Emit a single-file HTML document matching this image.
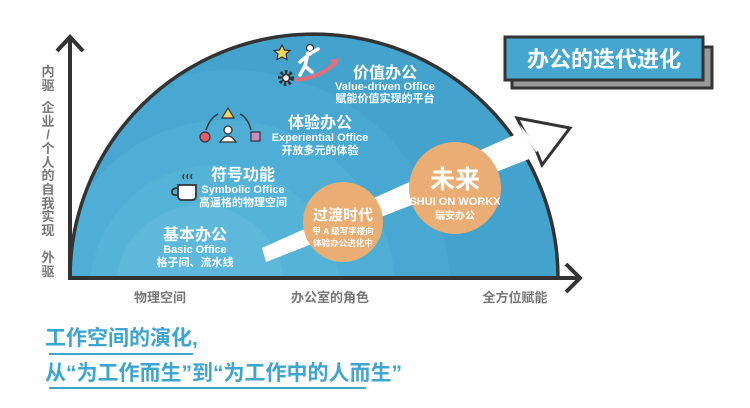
<!DOCTYPE html>
<html><head><meta charset="utf-8"><style>
html,body{margin:0;padding:0;background:#fff;width:750px;height:408px;overflow:hidden;}
svg{display:block;}
text{font-family:"Liberation Sans","Noto Sans CJK SC",sans-serif;font-weight:bold;}
</style></head><body>
<svg width="750" height="408" viewBox="0 0 750 408" xmlns="http://www.w3.org/2000/svg">
<defs>
<clipPath id="semi"><path d="M70 278 A244 244 0 0 1 558 278 Z"/></clipPath>
</defs>
<path d="M70 278 A244 244 0 0 1 558 278 Z" fill="#43a3cd"/>
<g clip-path="url(#semi)">
<circle cx="230" cy="290" r="220" fill="#48a8d1"/>
<circle cx="225" cy="290" r="170" fill="#4faed5"/>
<circle cx="215" cy="290" r="125" fill="#56b3d8"/>
<circle cx="200" cy="290" r="85" fill="#5db8db"/>
</g>
<path d="M70 278 A244 244 0 0 1 558 278" fill="none" stroke="#333" stroke-width="3.5"/>
<line x1="70" y1="38" x2="70" y2="280" stroke="#333" stroke-width="4"/>
<polyline points="57,51 70,37 83,51" fill="none" stroke="#333" stroke-width="4"/>
<line x1="68" y1="278" x2="580" y2="278" stroke="#333" stroke-width="4"/>
<polyline points="566,264 580,278 566,292" fill="none" stroke="#333" stroke-width="4"/>
<g fill="#777" font-size="13" text-anchor="middle">
<text x="48" y="76">内</text><text x="48" y="90">驱</text>
<text x="48" y="112">企</text><text x="48" y="126">业</text><text x="48" y="139">/</text>
<text x="48" y="153">个</text><text x="48" y="167">人</text><text x="48" y="180">的</text>
<text x="48" y="194">自</text><text x="48" y="208">我</text><text x="48" y="221">实</text><text x="48" y="235">现</text>
<text x="48" y="262">外</text><text x="48" y="276">驱</text>
<text x="160" y="302">物理空间</text>
<text x="330" y="302">办公室的角色</text>
<text x="515" y="302">全方位赋能</text>
</g>
<polygon points="262,248 530,128 542,154 266,262" fill="#fff"/>
<polygon points="517,118 570,128 542,165 536,150 525,133" fill="#fff" stroke="#333" stroke-width="3" stroke-linejoin="miter"/>
<polygon points="520,125 540,150 536,152 524,135" fill="#fff"/>
<circle cx="343" cy="222" r="40" fill="#eaae74"/>
<circle cx="455" cy="188" r="46" fill="#eaae74"/>
<g fill="#fff" text-anchor="middle">
<text x="343" y="220" font-size="15">过渡时代</text>
<text x="343" y="234" font-size="8.5">甲 A 级写字楼向</text>
<text x="343" y="246" font-size="8.5">体验办公进化中</text>
<text x="455" y="188" font-size="25">未来</text>
<text x="455" y="205" font-size="11" font-weight="normal">SHUI ON WORKX</text>
<text x="455" y="219" font-size="10" font-weight="normal">瑞安办公</text>
</g>
<g fill="#fff" text-anchor="middle">
<text x="385" y="78" font-size="16">价值办公</text>
<text x="385" y="90" font-size="11">Value-driven Office</text>
<text x="385" y="102" font-size="11">赋能价值实现的平台</text>
<text x="320" y="128" font-size="16">体验办公</text>
<text x="320" y="141" font-size="11">Experiential Office</text>
<text x="320" y="154" font-size="11">开放多元的体验</text>
<text x="243" y="180" font-size="16">符号功能</text>
<text x="243" y="193" font-size="11">Symbolic Office</text>
<text x="243" y="206" font-size="11">高逼格的物理空间</text>
<text x="195" y="240" font-size="16">基本办公</text>
<text x="195" y="253" font-size="11">Basic Office</text>
<text x="195" y="266" font-size="11">格子间、流水线</text>
</g>
<polygon points="282,45 284.5,50 290,50.5 286,54 287,59.5 282,57 277,59.5 278,54 274,50.5 279.5,50" fill="#f1d75e" stroke="#333" stroke-width="1.2"/>
<circle cx="286" cy="78" r="6" fill="none" stroke="#333" stroke-width="4" stroke-dasharray="2.5 2"/>
<circle cx="286" cy="78" r="3.5" fill="#fff" stroke="#333" stroke-width="1.5"/>
<path d="M295 80 Q320 78 335 63" fill="none" stroke="#e36e78" stroke-width="4"/>
<polygon points="330,60 339,58 336,67" fill="#e36e78"/>
<circle cx="310" cy="48" r="3.5" fill="#fff" stroke="#333" stroke-width="1.2"/>
<path d="M308 53 L305 66 L300 75 M305 66 L312 72 M308 55 L318 49 M307 56 L300 62" fill="none" stroke="#fff" stroke-width="3.5" stroke-linecap="round"/>
<polygon points="228,108 234,118 222,118" fill="#f1d75e" stroke="#333" stroke-width="1.2"/>
<path d="M206 130 Q210 118 218 114 M240 114 Q248 118 251 130" fill="none" stroke="#333" stroke-width="1.5"/>
<circle cx="205" cy="137" r="5" fill="#e05d6a" stroke="#333" stroke-width="1.2"/>
<rect x="251" y="132" width="9" height="9" fill="#c98bc2" stroke="#333" stroke-width="1.2"/>
<circle cx="228" cy="130" r="4" fill="#fff" stroke="#333" stroke-width="1.3"/>
<path d="M220 142 Q228 130 236 142 Z" fill="#fff" stroke="#333" stroke-width="1.3"/>
<path d="M178 185 L196 185 L196 196 Q196 200 192 200 L182 200 Q178 200 178 196 Z" fill="#fff" stroke="#333" stroke-width="1.8"/>
<path d="M178 188 Q172 188 172 192 Q172 196 178 195" fill="none" stroke="#333" stroke-width="1.8"/>
<path d="M184 174 q-2 3 0 5 M188 174 q-2 3 0 5 M192 174 q-2 3 0 5" fill="none" stroke="#333" stroke-width="1.3"/>
<rect x="512" y="47" width="200" height="41" fill="#999" stroke="#333" stroke-width="3"/>
<rect x="505" y="37" width="198" height="43" fill="#45a6cf" stroke="#333" stroke-width="3"/>
<text x="604" y="67" fill="#fff" font-size="22" text-anchor="middle">办公的迭代进化</text>
<text x="45" y="345" fill="#3da5cf" font-size="21">工作空间的演化,</text>
<line x1="49" y1="354" x2="193" y2="354" stroke="#3da5cf" stroke-width="2"/>
<text x="45" y="380" fill="#3da5cf" font-size="21">从“为工作而生”到“为工作中的人而生”</text>
<line x1="49" y1="388" x2="366" y2="388" stroke="#3da5cf" stroke-width="2"/>
</svg>
</body></html>
